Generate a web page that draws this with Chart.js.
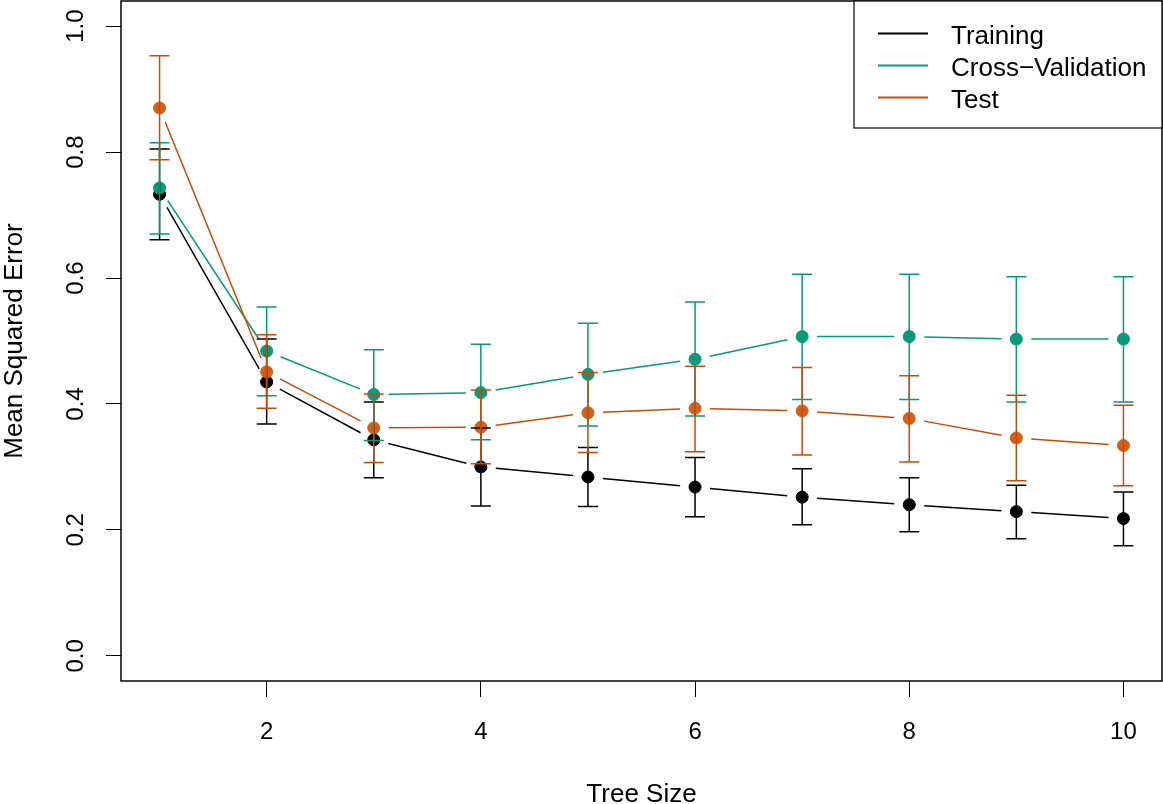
<!DOCTYPE html>
<html><head><meta charset="utf-8">
<script src="https://cdn.jsdelivr.net/npm/chart.js@4"></script>
<style>html,body{margin:0;padding:0;background:#fff;} #wrap{width:1163px;height:804px;position:relative;}</style>
</head><body><div id="wrap"><canvas id="c"></canvas></div>
<script>
const treeSize = [1, 2, 3, 4, 5, 6, 7, 8, 9, 10];

const trainMse = [0.733, 0.435, 0.343, 0.300, 0.284, 0.268, 0.252, 0.240, 0.229, 0.218];
const trainHi  = [0.805, 0.503, 0.403, 0.362, 0.331, 0.315, 0.297, 0.283, 0.271, 0.260];
const trainLo  = [0.661, 0.368, 0.283, 0.238, 0.237, 0.221, 0.208, 0.197, 0.186, 0.175];

const cvMse = [0.743, 0.484, 0.415, 0.418, 0.447, 0.471, 0.507, 0.507, 0.503, 0.503];
const cvHi  = [0.815, 0.554, 0.486, 0.495, 0.528, 0.562, 0.606, 0.606, 0.602, 0.602];
const cvLo  = [0.670, 0.413, 0.342, 0.343, 0.365, 0.381, 0.407, 0.407, 0.403, 0.403];

const testMse = [0.870, 0.451, 0.362, 0.363, 0.386, 0.393, 0.389, 0.377, 0.346, 0.334];
const testHi  = [0.953, 0.510, 0.416, 0.422, 0.450, 0.460, 0.458, 0.445, 0.414, 0.398];
const testLo  = [0.788, 0.393, 0.307, 0.305, 0.323, 0.324, 0.319, 0.308, 0.278, 0.270];

const xTickLabels = [2, 4, 6, 8, 10];
const yTickLabels = [0.0, 0.2, 0.4, 0.6, 0.8, 1.0];
const seriesNames = ['Training', 'Cross\u2212Validation', 'Test'];
const xTitle = 'Tree Size';
const yTitle = 'Mean Squared Error';

const pointColors = ['#000000', '#07997C', '#D2601A'];
const lineColors  = ['#000000', '#07997C', '#CC4A08'];
const FONT = '"Liberation Sans", Arial, Helvetica, sans-serif';
const GAP = 15;

const mses = [trainMse, cvMse, testMse];
const his = [trainHi, cvHi, testHi];
const los = [trainLo, cvLo, testLo];

const datasets = mses.map((arr, i) => ({
  label: seriesNames[i],
  data: treeSize.map((x, k) => ({x: x, y: arr[k]})),
  showLine: false,
  pointRadius: 6,
  pointHoverRadius: 6,
  pointBorderWidth: 1,
  pointBackgroundColor: pointColors[i],
  pointBorderColor: pointColors[i],
  order: 3 - i
}));

const gapLines = {
  id: 'gapLines',
  beforeDatasetsDraw(chart) {
    const ctx = chart.ctx;
    [0, 1, 2].forEach(i => {
      const pts = chart.getDatasetMeta(i).data;
      ctx.save();
      ctx.strokeStyle = lineColors[i];
      ctx.lineWidth = 1.5;
      for (let k = 0; k < pts.length - 1; k++) {
        const a = pts[k], b = pts[k + 1];
        const dx = b.x - a.x, dy = b.y - a.y, L = Math.hypot(dx, dy);
        if (L < 2 * GAP) continue;
        const ux = dx / L, uy = dy / L;
        ctx.beginPath();
        ctx.moveTo(a.x + ux * GAP, a.y + uy * GAP);
        ctx.lineTo(b.x - ux * GAP, b.y - uy * GAP);
        ctx.stroke();
      }
      ctx.restore();
    });
  },
  afterDatasetsDraw(chart) {
    const ctx = chart.ctx, xs = chart.scales.x, ys = chart.scales.y;
    [0, 1, 2].forEach(i => {
      ctx.save();
      ctx.strokeStyle = lineColors[i];
      ctx.lineWidth = 1.5;
      treeSize.forEach((t, k) => {
        const px = xs.getPixelForValue(t);
        const yl = ys.getPixelForValue(los[i][k]);
        const yh = ys.getPixelForValue(his[i][k]);
        ctx.beginPath();
        ctx.moveTo(px, yl); ctx.lineTo(px, yh);
        ctx.moveTo(px - 10, yl); ctx.lineTo(px + 10, yl);
        ctx.moveTo(px - 10, yh); ctx.lineTo(px + 10, yh);
        ctx.stroke();
      });
      ctx.restore();
    });
  },
  afterDraw(chart) {
    const ctx = chart.ctx, ca = chart.chartArea, xs = chart.scales.x, ys = chart.scales.y;
    ctx.save();
    // plot box
    ctx.strokeStyle = '#000';
    ctx.lineWidth = 1.5;
    ctx.strokeRect(ca.left, ca.top, ca.right - ca.left, ca.bottom - ca.top);
    // x tick labels
    ctx.fillStyle = '#000';
    ctx.font = '24px ' + FONT;
    ctx.textAlign = 'center';
    ctx.textBaseline = 'alphabetic';
    xTickLabels.forEach(v => {
      ctx.fillText(String(v), xs.getPixelForValue(v), ca.bottom + 58);
    });
    // y tick labels (rotated)
    yTickLabels.forEach(v => {
      ctx.save();
      ctx.translate(ca.left - 38, ys.getPixelForValue(v));
      ctx.rotate(-Math.PI / 2);
      ctx.fillText(v.toFixed(1), 0, 0);
      ctx.restore();
    });
    // axis titles
    ctx.font = '26px ' + FONT;
    ctx.fillText(xTitle, (ca.left + ca.right) / 2, 802);
    ctx.save();
    ctx.translate(22, (ca.top + ca.bottom) / 2);
    ctx.rotate(-Math.PI / 2);
    ctx.fillText(yTitle, 0, 0);
    ctx.restore();
    // legend
    const lx = ca.right - 308, ly = ca.top;
    ctx.fillStyle = '#fff';
    ctx.fillRect(lx, ly, 308, 127);
    ctx.strokeStyle = '#000';
    ctx.lineWidth = 1.2;
    ctx.strokeRect(lx, ly, 308, 127);
    ctx.textAlign = 'left';
    seriesNames.forEach((name, i) => {
      const yy = ly + 32.5 + 32 * i;
      ctx.strokeStyle = lineColors[i];
      ctx.lineWidth = 2;
      ctx.beginPath();
      ctx.moveTo(lx + 24, yy); ctx.lineTo(lx + 74, yy);
      ctx.stroke();
      ctx.fillStyle = '#000';
      ctx.fillText(name, lx + 97, yy + 10);
    });
    ctx.restore();
  }
};

new Chart(document.getElementById('c'), {
  type: 'line',
  data: { datasets: datasets },
  options: {
    responsive: true,
    maintainAspectRatio: false,
    animation: false,
    events: [],
    layout: { autoPadding: false, padding: { left: 0, right: 1, top: 1, bottom: 0 } },
    plugins: { legend: { display: false }, tooltip: { enabled: false } },
    scales: {
      x: {
        type: 'linear',
        min: 0.64, max: 10.36,
        afterBuildTicks: s => { s.ticks = xTickLabels.map(v => ({value: v})); },
        ticks: { display: false },
        grid: { display: true, drawOnChartArea: false, drawTicks: true, tickLength: 16, color: '#000', lineWidth: 1 },
        border: { display: false },
        afterFit: s => { s.height = 123; }
      },
      y: {
        type: 'linear',
        min: -0.04, max: 1.04,
        afterBuildTicks: s => { s.ticks = yTickLabels.map(v => ({value: v})); },
        ticks: { display: false },
        grid: { display: true, drawOnChartArea: false, drawTicks: true, tickLength: 15, color: '#000', lineWidth: 1 },
        border: { display: false },
        afterFit: s => { s.width = 121; }
      }
    }
  },
  plugins: [gapLines]
});
</script>
</body></html>
